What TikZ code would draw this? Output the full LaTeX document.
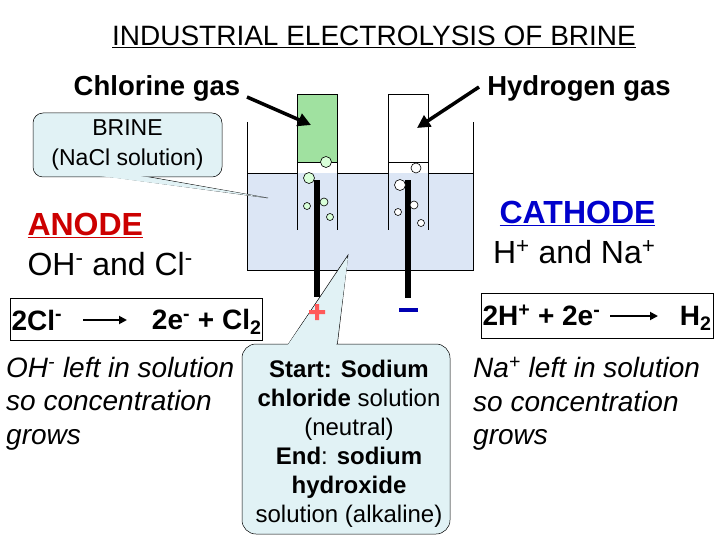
\documentclass[tikz,border=0pt]{standalone}
\usepackage{fontspec}
\setmainfont{Liberation Sans}
\usetikzlibrary{arrows.meta}
\definecolor{water}{RGB}{220,230,245}
\definecolor{call}{RGB}{225,242,245}
\definecolor{gas}{RGB}{160,225,160}
\begin{document}
\begin{tikzpicture}[x=1pt,y=-1pt,
  bub/.style={draw,fill=green!15,line width=0.6pt},
  bubw/.style={draw,fill=white,line width=0.6pt},
  eqbox/.style={draw,line width=0.6pt},
  arr/.style={line width=3.5pt,-{Triangle[length=13pt,width=13pt]}},
  earr/.style={line width=1.8pt,-{Triangle[length=8pt,width=8pt]}}]
\useasboundingbox (0,0) rectangle (720,540);
\node (title) at (374,37) {\fontsize{28}{32}\selectfont\underline{INDUSTRIAL ELECTROLYSIS OF BRINE}};
\node (cl) at (157,88) {\fontsize{27.5}{30}\selectfont\bfseries Chlorine gas};
\node (h) at (579,88) {\fontsize{27.5}{30}\selectfont\bfseries Hydrogen gas};
% tank
\fill[water] (247,173) rectangle (473,270);
\draw[line width=0.6pt] (247,122) -- (247,270) -- (473,270) -- (473,122);
\draw[line width=0.6pt] (247,173) -- (297,173) (337,173) -- (388,173) (428,173) -- (473,173);
\fill[gas] (297,94) rectangle (337,162);
\draw[line width=0.6pt] (297,230) -- (297,94) -- (337,94) -- (337,230) (297,162) -- (337,162);
\draw[line width=0.6pt] (388,230) -- (388,94) -- (428,94) -- (428,230) (388,162) -- (428,162);
\node[coordinate] (ct) at (311,125) {};
\node[coordinate] (ht) at (417,128) {};
\coordinate (cs) at (247,97);
\coordinate (hs) at (479,87);
\draw[arr] (cs) -- (ct);
\draw[arr] (hs) -- (ht);
% electrodes
\fill (314,180) rectangle (320,297);
\fill (405,180) rectangle (411,298);
\foreach \x/\y/\r in {326/162/5.5, 309/178/5.5, 324/202/4, 307/206/3.5, 330/217/3.5}
  \draw[bub] (\x,\y) circle (\r);
\foreach \x/\y/\r in {416/168/5, 400/185/5.5, 414/205/4, 398/212/3.5, 421/223/3.5}
  \draw[bubw] (\x,\y) circle (\r);
\fill[blue!70!black] (399,308) rectangle (418,312);
% brine callout
\draw[fill=call,line width=0.5pt] (60,170) -- (268,198) -- (110,170);
\node[draw,fill=call,rounded corners=10pt,minimum width=189pt,minimum height=64pt,align=center,line width=0.5pt,font=\fontsize{23}{30}\selectfont] (brine) at (127.5,145) {BRINE\\(NaCl solution)};
\fill[call] (100,176) -- (268,198) -- (140,176) -- cycle;
% anode/cathode
\node[anchor=west,align=left,font=\fontsize{32}{40}\selectfont] (anode) at (24,244) {\textcolor{red!80!black}{\underline{\bfseries ANODE}}\\OH\textsuperscript{-} and Cl\textsuperscript{-}};
\node[anchor=east,align=right,font=\fontsize{32}{40}\selectfont] (cath) at (659,232) {\textcolor{blue!80!black}{\underline{\bfseries CATHODE}}\\H\textsuperscript{+} and Na\textsuperscript{+}};
\node[eqbox,minimum width=252pt,minimum height=42pt] (eq1) at (136,319) {};
\node[anchor=west,font=\fontsize{28}{30}\selectfont\bfseries] (e1a) at (8,320) {2Cl\textsuperscript{-}};
\node[anchor=east,font=\fontsize{28}{30}\selectfont\bfseries] (e1b) at (265,322) {2e\textsuperscript{-} + Cl\textsubscript{2}};
\draw[earr] (83,320) -- (127,320);
\node[eqbox,minimum width=232pt,minimum height=45pt] (eq2) at (597,315.5) {};
\node[anchor=west,font=\fontsize{28}{30}\selectfont\bfseries] (e2a) at (479,315) {2H\textsuperscript{+} + 2e\textsuperscript{-}};
\node[anchor=east,font=\fontsize{28}{30}\selectfont\bfseries] (e2b) at (715,318) {H\textsubscript{2}};
\draw[earr] (610,316) -- (658,316);
\node[anchor=north west,align=left,font=\fontsize{28}{33.5}\selectfont\itshape,inner sep=0pt] (l1) at (6,357) {OH\textsuperscript{-} left in solution\\so concentration\\grows};
\node[anchor=north west,align=left,font=\fontsize{28}{33.5}\selectfont\itshape,inner sep=0pt] (l2) at (473,357) {Na\textsuperscript{+} left in solution\\so concentration\\grows};
% bottom callout
\draw[fill=call,line width=0.5pt] (275,364) -- (348,255) -- (335,364);
\node[draw,fill=call,rounded corners=14pt,minimum width=208pt,minimum height=190pt,line width=0.5pt] (sc) at (346,439) {};
\fill[call] (276,362) -- (348,258) -- (334,362) -- cycle;
% plus sign on top of callout
\fill[red!65] (309,310) rectangle (325,314) (315,304) rectangle (319,320);
\node[align=center,font=\fontsize{24}{29}\selectfont] (sct) at (349,444) {\bfseries Start: Sodium\\\textbf{chloride} solution\\(neutral)\\\textbf{End}: \textbf{sodium}\\\textbf{hydroxide}\\solution (alkaline)};
\end{tikzpicture}
\end{document}
